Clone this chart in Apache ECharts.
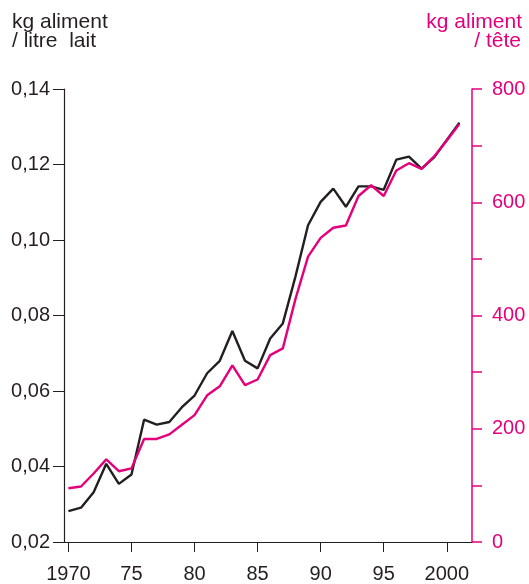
<!DOCTYPE html>
<html>
<head>
<meta charset="utf-8">
<script src="https://cdn.jsdelivr.net/npm/echarts@6/dist/echarts.min.js"></script>
<style>
  html, body { margin: 0; padding: 0; background: #fff; }
  #chart { width: 529px; height: 584px; }
</style>
</head>
<body>
<div id="chart"></div>
<script>
const years = [1970, 1971, 1972, 1973, 1974, 1975, 1976, 1977, 1978, 1979,
  1980, 1981, 1982, 1983, 1984, 1985, 1986, 1987, 1988, 1989,
  1990, 1991, 1992, 1993, 1994, 1995, 1996, 1997, 1998, 1999, 2000, 2001];
// kg aliment / litre lait (axe gauche)
const parLitre = [0.0282, 0.0291, 0.0332, 0.0407, 0.0354, 0.0379, 0.0524, 0.0511, 0.0518, 0.0557,
  0.0588, 0.0647, 0.0680, 0.0759, 0.0680, 0.0660, 0.0739, 0.0779, 0.0903, 0.1039,
  0.1101, 0.1136, 0.1088, 0.1142, 0.1142, 0.1133, 0.1213, 0.1221, 0.1189, 0.1219, 0.1265, 0.1311];
// kg aliment / tête (axe droit)
const parTete = [95, 98, 121, 146, 125, 130, 182, 182, 190, 207,
  224, 259, 275, 312, 277, 287, 330, 342, 429, 504,
  537, 555, 559, 611, 630, 611, 656, 669, 659, 681, 709, 738];
const xTicks = [1970, 1975, 1980, 1985, 1990, 1995, 2000];

const BLACK = '#231f20';
const PINK = '#e4007c';
const FONT = 'Liberation Sans';

const chart = echarts.init(document.getElementById('chart'));
chart.setOption({
  animation: false,
  grid: { left: 64, right: 57, top: 89, bottom: 40 },
  graphic: [
    { type: 'text', left: 12, top: 12,
      style: { text: 'kg aliment', fill: BLACK, font: '21px ' + FONT } },
    { type: 'text', left: 12, top: 31,
      style: { text: '/ litre  lait', fill: BLACK, font: '21px ' + FONT } },
    { type: 'text', right: 7, top: 12,
      style: { text: 'kg aliment', fill: PINK, font: '21px ' + FONT } },
    { type: 'text', right: 8, top: 31,
      style: { text: '/ tête', fill: PINK, font: '21px ' + FONT } }
  ],
  xAxis: {
    type: 'value',
    min: 1969.65,
    max: 2002,
    splitLine: { show: false },
    axisLine: { lineStyle: { color: BLACK, width: 1.2 } },
    axisTick: { customValues: xTicks, length: 10, lineStyle: { color: BLACK } },
    axisLabel: {
      customValues: xTicks,
      color: BLACK, fontSize: 20, fontFamily: FONT, margin: 22,
      formatter: v => (v === 1970 || v === 2000) ? String(v) : String(v).slice(2)
    }
  },
  yAxis: [
    {
      type: 'value',
      min: 0.02, max: 0.14, interval: 0.02,
      position: 'left',
      splitLine: { show: false },
      axisLine: { show: true, lineStyle: { color: BLACK, width: 1.2 } },
      axisTick: { show: true, length: 11, lineStyle: { color: BLACK } },
      axisLabel: {
        color: BLACK, fontSize: 20, fontFamily: FONT, margin: 14,
        formatter: v => v.toFixed(2).replace('.', ',')
      }
    },
    {
      type: 'value',
      min: 0, max: 800, interval: 200,
      position: 'right',
      splitLine: { show: false },
      axisLine: { show: true, lineStyle: { color: PINK, width: 1.5 } },
      axisTick: { show: true, length: 10, lineStyle: { color: PINK, width: 1.5 } },
      minorTick: { show: true, splitNumber: 2, length: 10, lineStyle: { color: PINK, width: 1.5 } },
      axisLabel: { color: PINK, fontSize: 20, fontFamily: FONT, margin: 20 }
    }
  ],
  series: [
    {
      type: 'line',
      yAxisIndex: 0,
      data: years.map((y, i) => [y, parLitre[i]]),
      showSymbol: false,
      lineStyle: { color: BLACK, width: 2.4 },
      z: 2
    },
    {
      type: 'line',
      yAxisIndex: 1,
      data: years.map((y, i) => [y, parTete[i]]),
      showSymbol: false,
      lineStyle: { color: PINK, width: 2.4 },
      z: 3
    }
  ]
});
window.onresize = function () {
  chart.resize();
};
</script>
</body>
</html>
